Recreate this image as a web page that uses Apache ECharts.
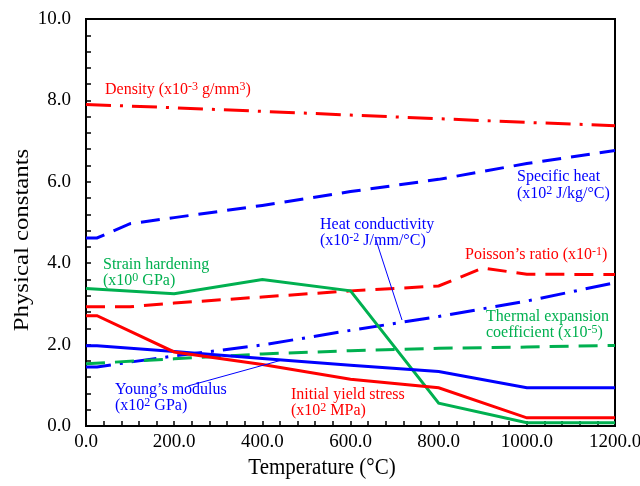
<!DOCTYPE html>
<html>
<head>
<meta charset="utf-8">
<script src="https://cdn.jsdelivr.net/npm/echarts@6/dist/echarts.min.js"></script>
<style>html,body{margin:0;padding:0;background:#fff}#c{width:640px;height:486px}</style>
</head>
<body>
<div id="c"></div>
<script>
// ---- data ----
var xTicks = [0, 200, 400, 600, 800, 1000, 1200];
var yTicks = [0, 2, 4, 6, 8, 10];

var densityT = [0, 200, 400, 600, 800, 1000, 1200];
var densityV = [7.90, 7.82, 7.73, 7.64, 7.55, 7.46, 7.38];

var specHeatT = [0, 25, 100, 200, 400, 600, 800, 1000, 1200];
var specHeatV = [4.62, 4.62, 4.97, 5.12, 5.42, 5.76, 6.06, 6.45, 6.77];

var heatCondT = [0, 25, 100, 200, 400, 600, 800, 1000, 1200];
var heatCondV = [1.45, 1.45, 1.57, 1.72, 1.99, 2.35, 2.69, 3.07, 3.52];

var poissonT = [0, 100, 200, 400, 600, 800, 900, 1000, 1200];
var poissonV = [2.93, 2.93, 3.02, 3.17, 3.32, 3.44, 3.88, 3.73, 3.72];

var strainT = [0, 200, 400, 600, 800, 1000, 1200];
var strainV = [3.38, 3.25, 3.60, 3.32, 0.56, 0.08, 0.08];

var thermExpT = [0, 200, 400, 600, 800, 1000, 1200];
var thermExpV = [1.53, 1.65, 1.77, 1.85, 1.91, 1.94, 1.98];

var youngT = [0, 25, 200, 400, 600, 800, 1000, 1200];
var youngV = [1.97, 1.97, 1.83, 1.66, 1.49, 1.34, 0.94, 0.94];

var yieldT = [0, 25, 200, 400, 600, 800, 1000, 1200];
var yieldV = [2.71, 2.71, 1.82, 1.51, 1.15, 0.94, 0.20, 0.20];

var xTitle = 'Temperature (°C)';
var yTitle = 'Physical constants';

// ---- helpers ----
var FONT = "'Liberation Serif', 'Times New Roman', serif";
var RED = '#FF0000', BLUE = '#0000FF', GREEN = '#00B050';

function pairs(t, v) { return t.map(function (x, i) { return [x, v[i]]; }); }

function mkSeries(name, t, v, color, dash) {
  return {
    name: name, type: 'line', data: pairs(t, v), showSymbol: false, symbol: 'none',
    animation: false, silent: true,
    lineStyle: { color: color, width: 3, type: dash || 'solid', cap: 'butt', join: 'miter' }
  };
}

var DASH = [19, 10];
var DASHDOT = [25, 9, 3, 9];

var rich = {
  a: { fontFamily: FONT, fontSize: 16, lineHeight: 17 },
  s: { fontFamily: FONT, fontSize: 12, lineHeight: 12, verticalAlign: 'top' }
};

function lbl(text, x, y, color, w) {
  var r = {};
  for (var k in rich) { r[k] = Object.assign({}, rich[k], { fill: color }); }
  return {
    type: 'text', left: x, top: y - 9, silent: true, z: 10,
    style: { text: text, rich: r, fill: color, font: '16px ' + FONT }
  };
}

var chart = echarts.init(document.getElementById('c'), null, { renderer: 'canvas' });

var axisCommon = {
  axisLine: { show: true, lineStyle: { color: '#000', width: 2 } },
  axisTick: { show: true, inside: true, length: 5, lineStyle: { color: '#000', width: 1.5 } },
  minorTick: { show: true, splitNumber: 5, length: 5, lineStyle: { color: '#000', width: 1.5 } },
  splitLine: { show: false },
  minorSplitLine: { show: false },
  axisLabel: { color: '#000', fontFamily: FONT, fontSize: 19, hideOverlap: false, formatter: function (v) { return v.toFixed(1); } }
};

chart.setOption({
  backgroundColor: '#fff',
  animation: false,
  grid: { left: 86, top: 19, right: 25, bottom: 60, containLabel: false, outerBoundsMode: 'none',
    show: true, borderColor: '#000', borderWidth: 2, backgroundColor: 'transparent' },
  xAxis: Object.assign({}, axisCommon, {
    type: 'value', min: xTicks[0], max: xTicks[xTicks.length - 1], interval: 200,
    axisLabel: Object.assign({}, axisCommon.axisLabel, { margin: 7 })
  }),
  yAxis: Object.assign({}, axisCommon, {
    type: 'value', min: yTicks[0], max: yTicks[yTicks.length - 1], interval: 2,
    axisLabel: Object.assign({}, axisCommon.axisLabel, { margin: 15 })
  }),
  series: [
    mkSeries('Density', densityT, densityV, RED, DASHDOT),
    mkSeries('Specific heat', specHeatT, specHeatV, BLUE, DASH),
    mkSeries('Heat conductivity', heatCondT, heatCondV, BLUE, DASHDOT),
    mkSeries("Poisson's ratio", poissonT, poissonV, RED, DASH),
    mkSeries('Thermal expansion coefficient', thermExpT, thermExpV, GREEN, DASH),
    mkSeries('Strain hardening', strainT, strainV, GREEN),
    mkSeries("Young's modulus", youngT, youngV, BLUE),
    mkSeries('Initial yield stress', yieldT, yieldV, RED)
  ],
  graphic: [
    { type: 'text', silent: true, x: 322, y: 468, scaleY: 1.12,
      style: { text: xTitle, font: '21px ' + FONT, fill: '#000', align: 'center', verticalAlign: 'middle' } },
    { type: 'text', silent: true, x: 22, y: 240, rotation: Math.PI / 2, scaleX: 1.18,
      style: { text: yTitle, font: '21px ' + FONT, fill: '#000', align: 'center', verticalAlign: 'middle' } },
    lbl('{a|Density (x10}{s|-3}{a| g/mm}{s|3}{a|)}', 105, 90, RED),
    lbl('{a|Specific heat}', 517, 178, BLUE),
    lbl('{a|(x10}{s|2}{a| J/kg/°C)}', 517, 194, BLUE),
    lbl('{a|Heat conductivity}', 320, 226, BLUE),
    lbl('{a|(x10}{s|-2}{a| J/mm/°C)}', 320, 241, BLUE),
    lbl('{a|Poisson’s ratio (x10}{s|-1}{a|)}', 465, 255, RED),
    lbl('{a|Strain hardening}', 103, 266, GREEN),
    lbl('{a|(x10}{s|0}{a| GPa)}', 103, 281, GREEN),
    lbl('{a|Thermal expansion}', 486, 318, GREEN),
    lbl('{a|coefficient (x10}{s|-5}{a|)}', 486, 333, GREEN),
    lbl('{a|Young’s modulus}', 115, 391, BLUE),
    lbl('{a|(x10}{s|2}{a| GPa)}', 115, 406, BLUE),
    lbl('{a|Initial yield stress}', 291, 396, RED),
    lbl('{a|(x10}{s|2}{a| MPa)}', 291, 411, RED),
    { type: 'line', silent: true, z: 9, shape: { x1: 376, y1: 240, x2: 402, y2: 320 }, style: { stroke: BLUE, lineWidth: 1 } },
    { type: 'line', silent: true, z: 9, shape: { x1: 188, y1: 386, x2: 282, y2: 360 }, style: { stroke: BLUE, lineWidth: 1 } }
  ]
});
</script>
</body>
</html>
